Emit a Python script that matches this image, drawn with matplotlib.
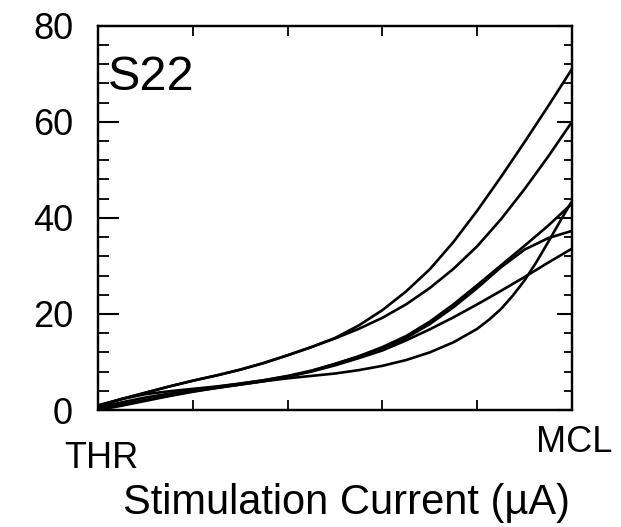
import matplotlib
matplotlib.use("Agg")
import matplotlib.pyplot as plt
from matplotlib.ticker import MultipleLocator

plt.rcParams['font.family'] = ['Liberation Sans', 'DejaVu Sans']

# stimulation current, normalised from THR (0) to MCL (1)
current = [0.0, 0.05, 0.1, 0.15, 0.2, 0.25, 0.3, 0.35, 0.4, 0.45, 0.5,
           0.55, 0.6, 0.65, 0.7, 0.75, 0.8, 0.85, 0.9, 0.95, 1.0]
# the steep curve needs a few more readings near MCL
current_f = [0.0, 0.05, 0.1, 0.15, 0.2, 0.25, 0.3, 0.35, 0.4, 0.45, 0.5,
             0.55, 0.6, 0.65, 0.7, 0.75, 0.8, 0.825, 0.85, 0.875, 0.9,
             0.925, 0.95, 0.975, 1.0]

# loudness estimates, one curve per electrode
curve_a = [0.8, 2.3, 3.6, 4.9, 6.1, 7.2, 8.4, 9.8, 11.4, 13.1, 15.0,
           17.6, 20.8, 24.7, 29.3, 35.0, 41.5, 48.5, 55.8, 63.3, 71.0]
curve_b = [0.8, 2.3, 3.6, 4.9, 6.1, 7.2, 8.4, 9.8, 11.4, 13.1, 14.9,
           16.9, 19.2, 22.0, 25.4, 29.4, 34.1, 39.7, 46.0, 52.8, 60.0]
curve_c = [0.3, 1.2, 2.1, 3.0, 3.9, 4.6, 5.3, 6.0, 6.9, 8.1, 9.6,
           11.2, 13.1, 15.4, 18.4, 22.0, 26.0, 30.1, 34.2, 38.4, 43.0]
curve_d = [0.5, 1.6, 2.6, 3.4, 4.1, 4.8, 5.5, 6.2, 7.1, 8.2, 9.6,
           11.1, 12.9, 15.0, 17.9, 21.4, 25.4, 29.7, 33.4, 35.8, 37.3]
curve_e = [1.0, 2.3, 3.3, 3.9, 4.4, 4.9, 5.5, 6.2, 7.0, 8.0, 9.3,
           10.8, 12.4, 14.5, 16.8, 19.3, 22.0, 24.8, 27.7, 30.7, 33.6]
curve_f = [0.0, 0.9, 1.9, 2.9, 3.8, 4.6, 5.3, 6.0, 6.6, 7.1, 7.6,
           8.3, 9.2, 10.4, 12.0, 14.1, 16.9, 18.8, 21.0, 23.8, 27.0,
           30.8, 35.0, 39.3, 43.5]

subject = "S22"
y_ticks = [0, 20, 40, 60, 80]

fig = plt.figure(figsize=(6.21, 5.27), dpi=100)
ax = fig.add_axes([0.158, 0.222, 0.763, 0.729])

for c in [curve_a, curve_b, curve_c, curve_d, curve_e]:
    ax.plot(current, c, color='black', lw=1.9, solid_joinstyle='round')
ax.plot(current_f, curve_f, color='black', lw=1.9, solid_joinstyle='round')

ax.set_xlim(0, 1)
ax.set_ylim(0, 80)
ax.set_yticks(y_ticks)
ax.yaxis.set_minor_locator(MultipleLocator(4))
ax.set_xticks([0.2, 0.4, 0.6, 0.8])
ax.set_xticklabels([])

ax.tick_params(axis='y', which='major', direction='in', length=15, width=1.5,
               left=True, right=False, labelsize=26, pad=18)
ax.tick_params(axis='y', which='minor', direction='in', length=8, width=1.3,
               left=True, right=False)
ax.tick_params(axis='x', which='major', direction='in', length=7, width=1.3,
               bottom=True, top=True)
for s in ax.spines.values():
    s.set_linewidth(1.6)

# right side ticks are shorter in the original
ax2 = ax.twinx()
ax2.set_ylim(0, 80)
ax2.set_yticks(y_ticks)
ax2.yaxis.set_minor_locator(MultipleLocator(4))
ax2.tick_params(axis='y', which='major', direction='in', length=11, width=1.5,
                labelright=False)
ax2.tick_params(axis='y', which='minor', direction='in', length=6, width=1.3)
for s in ax2.spines.values():
    s.set_linewidth(1.6)

ax.text(0.02, 0.925, subject, transform=ax.transAxes, fontsize=35,
        ha='left', va='top')
ax.text(0.006, -0.08, "THR", transform=ax.transAxes, fontsize=26,
        ha='center', va='top')
ax.text(1.004, -0.04, "MCL", transform=ax.transAxes, fontsize=26,
        ha='center', va='top')

ax.set_xlabel("Stimulation Current (\u00b5A)", fontsize=30)
ax.xaxis.set_label_coords(0.525, -0.19)

fig.savefig("out.png", dpi=100)
